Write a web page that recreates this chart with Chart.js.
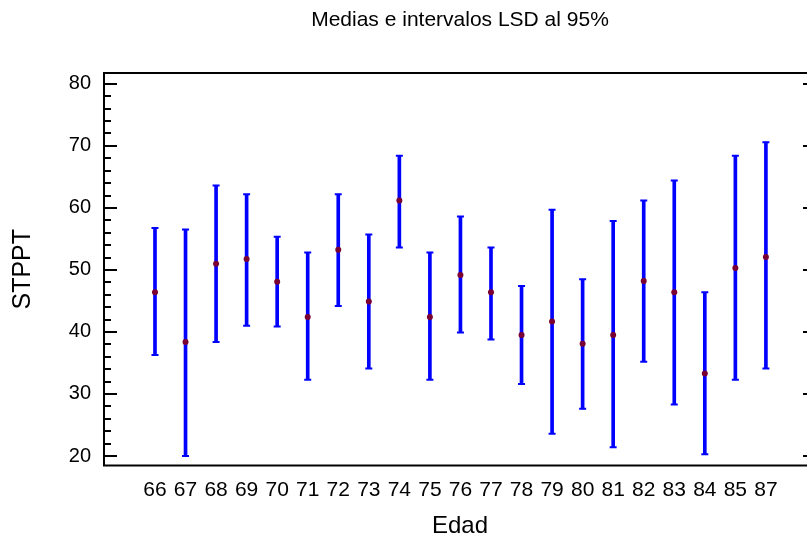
<!DOCTYPE html>
<html>
<head>
<meta charset="utf-8">
<title>Medias e intervalos LSD al 95%</title>
<script src="https://cdn.jsdelivr.net/npm/chart.js@4/dist/chart.umd.min.js"></script>
<style>
	body { margin: 0; background: #fff; overflow: hidden; }
	.contenedor { width: 807px; height: 541px; overflow: hidden; }
</style>
</head>
<body>
<div class="contenedor">
	<canvas id="grafico" width="920" height="541"></canvas>
</div>
<script>
var edades = ['66','67','68','69','70','71','72','73','74','75','76','77','78','79','80','81','82','83','84','85','87'];
var medias = [46.4, 38.4, 51.0, 51.75, 48.1, 42.4, 53.25, 44.9, 61.2, 42.4, 49.2, 46.4, 39.5, 41.7, 38.1, 39.5, 48.2, 46.4, 33.3, 50.3, 52.1];
var limiteInf = [36.3, 20.0, 38.4, 41.0, 40.9, 32.3, 44.2, 34.1, 53.6, 32.3, 39.9, 38.8, 31.6, 23.6, 27.6, 21.4, 35.2, 28.3, 20.3, 32.3, 34.1];
var limiteSup = [56.75, 56.5, 63.6, 62.2, 55.35, 52.8, 62.2, 55.7, 68.4, 52.8, 58.6, 53.6, 47.4, 59.7, 48.5, 57.9, 61.2, 64.4, 46.4, 68.4, 70.6];
var ticksY = [20, 30, 40, 50, 60, 70, 80];

var fuente = "'Liberation Sans', Arial, sans-serif";
Chart.defaults.color = '#000';
Chart.defaults.font.family = fuente;

// marco negro y marcas hacia dentro (mayores cada 10, menores cada 2)
var marco = {
	id: 'marco',
	afterDraw: function(chart) {
		var ctx = chart.ctx;
		var a = chart.chartArea;
		var y = chart.scales.y;
		ctx.save();
		ctx.strokeStyle = '#000';
		ctx.lineWidth = 2;
		ctx.strokeRect(a.left, a.top, a.right - a.left, a.bottom - a.top);
		for (var v = ticksY[0]; v <= ticksY[ticksY.length - 1]; v += 2) {
			var py = Math.round(y.getPixelForValue(v));
			var largo = ticksY.indexOf(v) >= 0 ? 13 : 7;
			ctx.beginPath();
			ctx.moveTo(a.left, py);
			ctx.lineTo(a.left + largo, py);
			ctx.moveTo(a.right, py);
			ctx.lineTo(a.right - largo, py);
			ctx.stroke();
		}
		ctx.restore();
	}
};

var barras = edades.map(function(e, i) { return {x: i, y: [limiteInf[i], limiteSup[i]]}; });
var topes = edades.map(function(e, i) { return {x: i, y: limiteInf[i]}; })
	.concat(edades.map(function(e, i) { return {x: i, y: limiteSup[i]}; }));
var puntos = edades.map(function(e, i) { return {x: i, y: medias[i]}; });

var canvas = document.getElementById('grafico').getContext('2d');
var grafico = new Chart(canvas, {
	type: 'bar',
	data: {
		datasets: [{
			type: 'line',
			data: puntos,
			showLine: false,
			pointStyle: 'circle',
			pointRadius: 3,
			pointBackgroundColor: '#7a0032',
			pointBorderWidth: 0,
			order: 0
		}, {
			type: 'line',
			data: topes,
			showLine: false,
			pointStyle: 'line',
			pointRadius: 3.5,
			pointBorderColor: '#0000FF',
			pointBorderWidth: 2,
			order: 1
		}, {
			type: 'bar',
			data: barras,
			backgroundColor: '#0000FF',
			borderWidth: 0,
			barThickness: 3,
			order: 2
		}]
	},
	options: {
		responsive: false,
		animation: false,
		events: [],
		layout: { padding: 0 },
		plugins: {
			legend: { display: false },
			tooltip: { enabled: false },
			title: {
				display: true,
				text: 'Medias e intervalos LSD al 95%',
				font: { size: 21, weight: 'normal', family: fuente },
				padding: { top: 8, bottom: 39.8 }
			}
		},
		scales: {
			x: {
				type: 'linear',
				offset: false,
				min: -1.669,
				max: 21.64,
				grid: { display: false, drawTicks: false, offset: false },
				border: { display: false },
				afterBuildTicks: function(scale) {
					scale.ticks = edades.map(function(e, i) { return {value: i}; });
				},
				afterFit: function(scale) {
					scale.height = 75.5;
					scale.paddingLeft = 0;
					scale.paddingRight = 0;
				},
				ticks: {
					autoSkip: false,
					maxRotation: 0,
					padding: 12,
					font: { size: 21 },
					callback: function(v) { return edades[Math.round(v)]; }
				},
				title: {
					display: true,
					text: 'Edad',
					font: { size: 24 },
					padding: { top: 0, bottom: 0 }
				}
			},
			y: {
				type: 'linear',
				position: 'left',
				min: 18.47,
				max: 81.75,
				grid: { display: false, drawTicks: false },
				border: { display: false },
				afterBuildTicks: function(scale) {
					scale.ticks = ticksY.map(function(v) { return {value: v}; });
				},
				afterFit: function(scale) {
					scale.width = 104;
					scale.paddingTop = 0;
					scale.paddingBottom = 0;
				},
				ticks: {
					padding: 13,
					font: { size: 20 }
				},
				title: {
					display: true,
					text: 'STPPT',
					font: { size: 25 },
					padding: { top: 8, bottom: 0 }
				}
			},
			y2: {
				type: 'linear',
				position: 'right',
				min: 18.47,
				max: 81.75,
				grid: { display: false, drawTicks: false },
				border: { display: false },
				ticks: { display: false },
				afterFit: function(scale) {
					scale.width = 104;
				}
			}
		}
	},
	plugins: [marco]
});
</script>
</body>
</html>
